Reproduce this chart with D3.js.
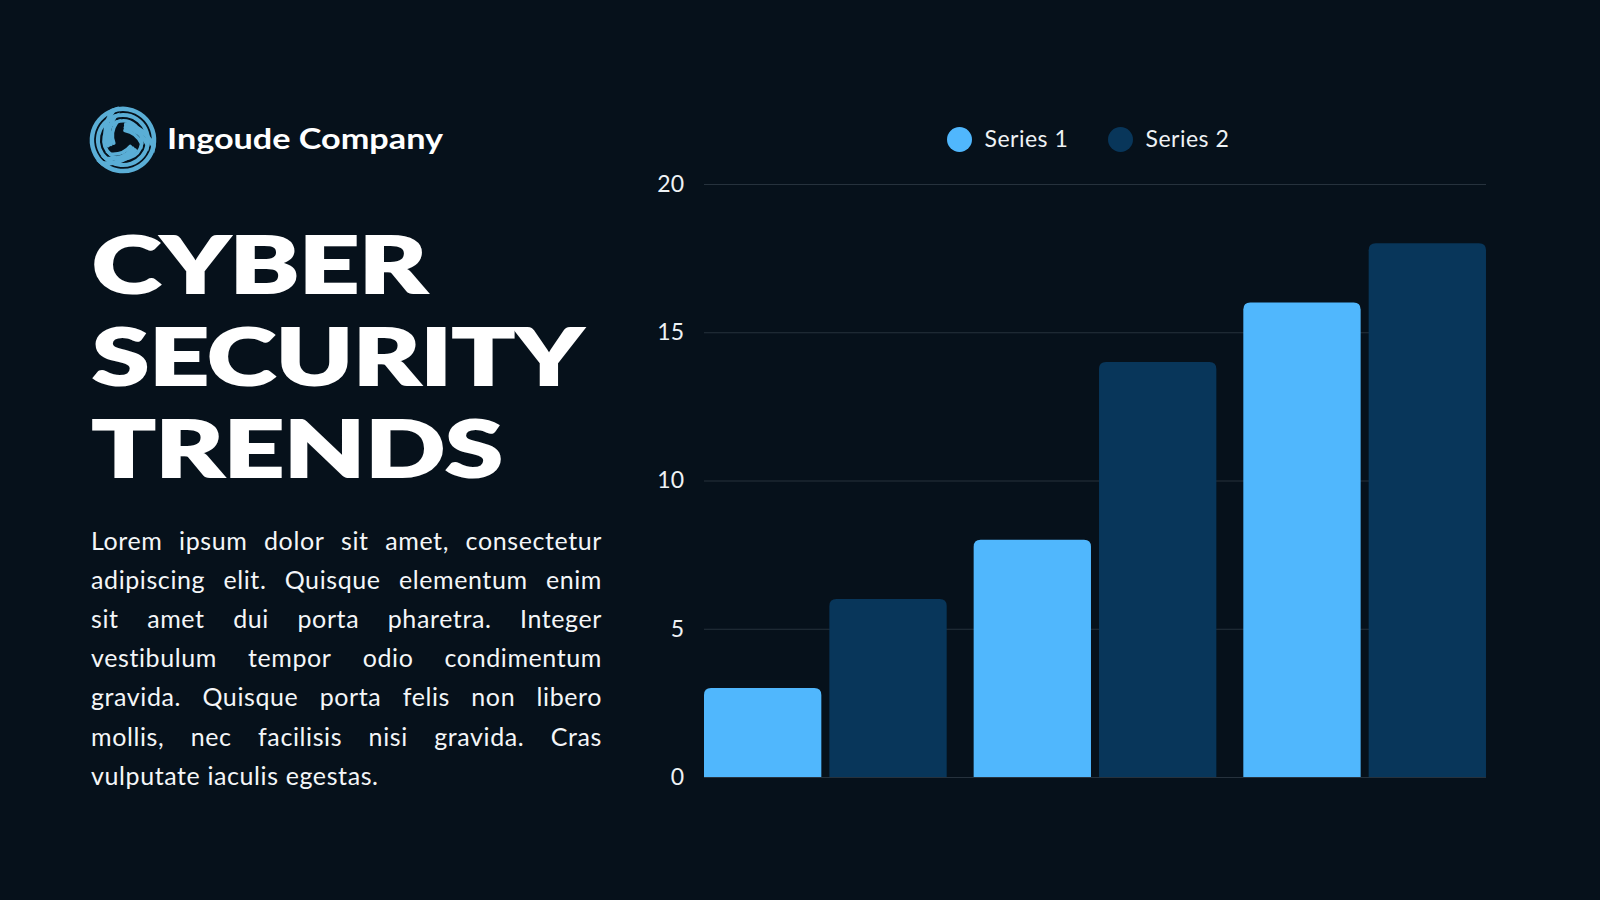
<!DOCTYPE html>
<html>
<head>
<meta charset="utf-8">
<script src="https://cdn.jsdelivr.net/npm/d3@7"></script>
<style>
  html, body { margin: 0; padding: 0; background: #06111b; }
  svg { display: block; }
</style>
</head>
<body>
<div id="chart"></div>
<script>
// chart data
const categories = ["Category 1", "Category 2", "Category 3"];
const seriesNames = ["Series 1", "Series 2"];
const series1 = [3, 8, 16];
const series2 = [6, 14, 18];
const yTicks = [0, 5, 10, 15, 20];

// slide texts
const companyName = "Ingoude Company";
const titleLines = ["CYBER", "SECURITY", "TRENDS"];
const bodyLines = [
    "Lorem ipsum dolor sit amet, consectetur",
    "adipiscing elit. Quisque elementum enim",
    "sit amet dui porta pharetra. Integer",
    "vestibulum tempor odio condimentum",
    "gravida. Quisque porta felis non libero",
    "mollis, nec facilisis nisi gravida. Cras",
    "vulputate iaculis egestas."
];

const WIDTH = 1600, HEIGHT = 900;
const BG = "#06111b";
const COLORS = ["#50b7fd", "#08365a"];
const PLOT = {left: 704, right: 1486, top: 184, bottom: 777};
const TEXT_FONT = "Lato, 'Open Sans', sans-serif";

let svg = d3.select("#chart")
    .append("svg")
    .attr("width", WIDTH)
    .attr("height", HEIGHT);

svg.append("rect")
    .attr("width", WIDTH)
    .attr("height", HEIGHT)
    .attr("fill", BG);

// logo: swirl of curved blue bands
let logo = svg.append("g")
    .attr("transform", "translate(123,140)");
[0, 120, 240].forEach(function (angle) {
    let arm = logo.append("g").attr("transform", "rotate(" + angle + ")");
    [[31, 4.5], [25, 4], [19, 3.5]].forEach(function (a) {
        let r = a[0];
        arm.append("path")
            .attr("d", "M" + (-r * 0.35) + "," + (-r * 0.94) +
                " A" + r + "," + r + " 0 0,1 " + (r * 0.98) + "," + (r * 0.2) +
                " Q" + (r * 0.7) + "," + (-r * 0.4) + " " + (r * 0.1) + "," + (-r * 0.5))
            .attr("fill", "none")
            .attr("stroke", "#5aaed6")
            .attr("stroke-width", a[1])
            .attr("stroke-linecap", "round");
    });
});

svg.append("text")
    .attr("x", 167)
    .attr("y", 149)
    .attr("textLength", 276)
    .attr("lengthAdjust", "spacingAndGlyphs")
    .style("font-family", TEXT_FONT)
    .style("font-weight", 700)
    .style("font-size", "28px")
    .attr("fill", "#ffffff")
    .text(companyName);

// title
const titleBase = [293, 385, 477];
const titleWidth = [335, 491, 411];
titleLines.forEach(function (t, i) {
    svg.append("text")
        .attr("x", 92)
        .attr("y", titleBase[i])
        .attr("textLength", titleWidth[i])
        .attr("lengthAdjust", "spacingAndGlyphs")
        .style("font-family", "Lato, 'DejaVu Sans', sans-serif")
        .style("font-weight", 900)
        .style("font-size", "78px")
        .attr("fill", "#ffffff")
        .attr("stroke", "#ffffff")
        .attr("stroke-width", 2)
        .text(t);
});

// justified paragraph
const paraLeft = 91, paraRight = 602, paraTop = 549.5, paraStep = 39.2;
bodyLines.forEach(function (line, i) {
    let words = line.split(" ");
    let g = svg.append("g");
    let nodes = words.map(function (w) {
        return g.append("text")
            .attr("y", paraTop + i * paraStep)
            .style("font-family", TEXT_FONT)
            .style("font-size", "25px")
            .style("letter-spacing", "0.6px")
            .attr("fill", "#f4f6f8")
            .text(w);
    });
    let widths = nodes.map(n => n.node().getComputedTextLength());
    let total = d3.sum(widths);
    let last = i === bodyLines.length - 1;
    let gap = last ? 7 : (paraRight - paraLeft - total) / (words.length - 1);
    let x = paraLeft;
    nodes.forEach(function (n, k) {
        n.attr("x", x);
        x += widths[k] + gap;
    });
});

// chart
let y = d3.scaleLinear()
    .domain([0, 20])
    .range([PLOT.bottom, PLOT.top]);

let x0 = d3.scaleBand()
    .domain(categories)
    .range([PLOT.left, PLOT.right])
    .paddingInner(0.1)
    .paddingOuter(0);

let x1 = d3.scaleBand()
    .domain(seriesNames)
    .range([0, x0.bandwidth()])
    .paddingInner(0.064)
    .paddingOuter(0);

let yAxis = svg.append("g")
    .attr("transform", "translate(" + PLOT.left + ",0)")
    .call(d3.axisLeft(y)
        .tickValues(yTicks)
        .tickSize(-(PLOT.right - PLOT.left))
        .tickPadding(20));
yAxis.select(".domain").remove();
yAxis.selectAll(".tick line")
    .attr("stroke", "#26323d")
    .attr("stroke-width", 1.2);
yAxis.selectAll(".tick text")
    .attr("fill", "#eef2f5")
    .style("font-family", TEXT_FONT)
    .style("font-size", "23px");

function topRoundedBar(x, yTop, w, h, r) {
    r = Math.min(r, h, w / 2);
    return "M" + x + "," + (yTop + h) +
        " V" + (yTop + r) +
        " Q" + x + "," + yTop + " " + (x + r) + "," + yTop +
        " H" + (x + w - r) +
        " Q" + (x + w) + "," + yTop + " " + (x + w) + "," + (yTop + r) +
        " V" + (yTop + h) + " Z";
}

let rows = categories.map(function (c, i) {
    return {category: c, values: [series1[i], series2[i]]};
});

let groups = svg.selectAll(".group")
    .data(rows)
    .enter()
    .append("g")
    .attr("transform", d => "translate(" + x0(d.category) + ",0)");

groups.selectAll("path")
    .data(d => d.values.map((v, k) => ({name: seriesNames[k], value: v, color: COLORS[k]})))
    .enter()
    .append("path")
    .attr("d", d => topRoundedBar(x1(d.name), y(d.value), x1.bandwidth(), y(0) - y(d.value), 7))
    .attr("fill", d => d.color);

// legend
const legendX = [959.5, 1120.5];
seriesNames.forEach(function (name, i) {
    svg.append("circle")
        .attr("cx", legendX[i])
        .attr("cy", 139.5)
        .attr("r", 12.5)
        .attr("fill", COLORS[i]);
    svg.append("text")
        .attr("x", legendX[i] + 25)
        .attr("y", 147)
        .style("font-family", TEXT_FONT)
        .style("font-size", "23px")
        .style("letter-spacing", "0.5px")
        .attr("fill", "#eef2f5")
        .text(name);
});
</script>
</body>
</html>
